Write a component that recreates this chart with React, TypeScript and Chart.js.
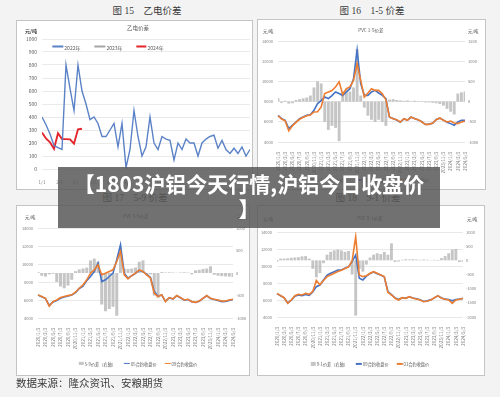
import React, { useEffect, useRef } from "react";
import { Chart, registerables } from "chart.js";

Chart.register(...registerables);

const SANS = '"Noto Sans CJK SC", "Liberation Sans", sans-serif';
const SERIF = '"Liberation Serif", "Noto Sans CJK SC", serif';
Chart.defaults.font.family = SANS;

// ---------- Figure 15: 乙电价差 (weekly) ----------
const ETH_MONTH_TICKS = ["1/1", "2/1", "3/1", "4/1", "5/1", "6/1", "7/1", "8/1", "9/1", "10/1", "11/1", "12/1"];
const ETH_MONTH_TICK_WEEK = [0, 4.4, 8.4, 12.9, 17.1, 21.6, 25.9, 30.3, 34.7, 39, 43.4, 47.7];
const ETH_2022 = [400, 340, 270, 180, 165, 150, 800, 620, 450, 800, 600, 500, 380, 400, 350, 250, 250, 300, 350, 170, 350, 10, 150, 450, 250, 100, 170, 400, 200, 150, 250, 230, 220, 70, 200, 150, 230, 200, 200, 100, 200, 230, 250, 260, 160, 220, 150, 120, 160, 120, 170, 100, 150];
const ETH_2023: number[] = [];
const ETH_2024 = [280, 235, 205, 155, 275, 230, 230, 228, 195, 305, 310];

// ---------- PVC spread charts (monthly) ----------
const MONTH_LABELS = [
  "2020/1/3", "2020/2/3", "2020/3/3", "2020/4/3", "2020/5/3", "2020/6/3", "2020/7/3", "2020/8/3", "2020/9/3", "2020/10/3", "2020/11/3", "2020/12/3",
  "2021/1/3", "2021/2/3", "2021/3/3", "2021/4/3", "2021/5/3", "2021/6/3", "2021/7/3", "2021/8/3", "2021/9/3", "2021/10/3", "2021/11/3", "2021/12/3",
  "2022/1/3", "2022/2/3", "2022/3/3", "2022/4/3", "2022/5/3", "2022/6/3", "2022/7/3", "2022/8/3", "2022/9/3", "2022/10/3", "2022/11/3", "2022/12/3",
  "2023/1/3", "2023/2/3", "2023/3/3", "2023/4/3", "2023/5/3", "2023/6/3", "2023/7/3", "2023/8/3", "2023/9/3", "2023/10/3", "2023/11/3", "2023/12/3",
  "2024/1/3", "2024/2/3", "2024/3/3", "2024/4/3", "2024/5/3",
];

// 图16 1-5价差
const S15_SPREAD = [80, -30, 20, -50, -40, 40, 60, 80, 100, 150, 350, 500, 450, -500, -700, -600, -650, -980, 250, 300, 250, 350, 1300, 150, -150, -350, -450, -500, -450, -500, -600, 50, 60, 40, 30, 20, 30, 10, 20, 10, -10, -20, -20, -30, -40, -60, -100, -180, -250, -320, 200, 230, 250];
const S15_C01 = [6640, 6310, 6150, 5320, 5650, 5980, 6300, 6480, 6640, 6700, 7140, 7800, 8100, 8450, 8300, 8600, 8950, 8800, 8600, 8950, 9280, 10270, 13100, 9780, 8620, 8620, 8950, 9110, 8850, 8620, 8290, 6450, 6330, 6180, 5950, 6290, 6170, 6450, 6330, 6190, 6000, 5730, 5770, 5860, 6230, 6360, 6170, 5960, 5820, 5650, 5980, 6150, 6150];
const S15_C05 = [6600, 6280, 6100, 5100, 5600, 5950, 6250, 6450, 6600, 6680, 6970, 7000, 7470, 8800, 8950, 9100, 9450, 9950, 8700, 9280, 9450, 10100, 11750, 10100, 8450, 8850, 9280, 9110, 9110, 8780, 8190, 6480, 6310, 6210, 5980, 6310, 6150, 6480, 6310, 6210, 5980, 5750, 5750, 5880, 6210, 6380, 6150, 5980, 6080, 5880, 5820, 5980, 6050];

// 图17 5-9价差
const S59_SPREAD = [20, -60, -80, -30, -20, -200, -300, -340, -280, -150, 40, 80, 100, 120, 280, 320, 250, -700, -850, -800, -750, -950, 450, 100, 90, 100, 120, 250, 280, -50, -30, -500, -550, 20, 10, 15, 10, 5, 10, 15, 10, -30, 60, 70, 90, 100, 150, -40, -60, -70, -75, -80, -90];
const S59_C05 = [6550, 6350, 6150, 5400, 5780, 5950, 6200, 6330, 6450, 6550, 6820, 7280, 7550, 8150, 8610, 9170, 10100, 8050, 8240, 8610, 8980, 10470, 12140, 8980, 8420, 8700, 8950, 9300, 9150, 8850, 8500, 6930, 6420, 6550, 5850, 6250, 6100, 6470, 6250, 5980, 6050, 5800, 5720, 5870, 6170, 6470, 6170, 6050, 5950, 5820, 5850, 5960, 6060];
const S59_C09 = [6570, 6380, 6190, 5300, 5820, 6000, 6270, 6380, 6490, 6570, 6860, 7310, 7680, 8240, 8980, 9350, 9910, 8800, 8980, 9170, 9350, 10280, 11400, 8800, 8350, 8720, 8980, 9350, 9170, 8800, 8420, 6750, 6380, 6570, 5820, 6270, 6120, 6490, 6270, 6000, 6080, 5820, 5740, 5890, 6190, 6490, 6190, 6080, 6000, 5880, 5890, 6000, 6080];

// 图18 9-1价差
const S91_SPREAD = [-50, 60, 60, 70, 90, 100, 110, 140, 150, 60, -300, -600, -450, -100, 200, 300, 350, 380, 350, 300, 330, -500, -1950, -300, -400, -150, 100, 200, 250, 220, 300, 200, 600, -60, -40, 20, 40, 30, 40, 30, 20, 30, 20, 10, 20, -20, 80, 150, 250, 380, 400, -60, -50];
const S91_C09 = [6750, 6500, 6250, 5650, 5980, 6450, 6600, 6500, 6650, 6550, 6950, 7570, 7760, 8350, 8940, 9140, 9330, 9530, 9530, 9730, 9920, 10510, 11300, 8550, 8350, 8800, 9100, 9300, 9100, 8950, 8700, 7000, 6650, 6250, 6050, 6250, 6220, 6380, 6230, 6150, 6020, 5830, 5900, 6020, 6250, 6480, 6230, 6100, 6050, 5900, 6050, 6100, 6180];
const S91_C01 = [6780, 6510, 6270, 5610, 6000, 6510, 6670, 6590, 6780, 6670, 7000, 8300, 7800, 8300, 8750, 8950, 9150, 9350, 9500, 9700, 9900, 10600, 13450, 8940, 8750, 8860, 9140, 9330, 9140, 8940, 8750, 6900, 6590, 6200, 6000, 6270, 6200, 6390, 6200, 6120, 6000, 5800, 5880, 6000, 6270, 6510, 6200, 6080, 6000, 5610, 6000, 6080, 6200];

const BLUE = "#4472c4";
const ORANGE = "#ed7d31";
const BAR_GREY = "rgba(175,175,175,0.72)";
const ETH_BLUE = "#5b82c6";
const ETH_GREY = "#a6a6a6";
const ETH_RED = "#e3262b";
const TICK_COLOR = "#7f7f7f";

const plainTick = (v: any) => String(v);

function ChartCanvas({ left, top, width, height, makeConfig }: any) {
  const ref = useRef<HTMLCanvasElement>(null);
  useEffect(() => {
    const chart = new Chart(ref.current as HTMLCanvasElement, makeConfig());
    return () => chart.destroy();
  }, []);
  return (
    <canvas
      ref={ref}
      width={width}
      height={height}
      style={{ position: "absolute", left, top, width, height }}
    />
  );
}

function ethConfig(): any {
  return {
    type: "line",
    data: {
      datasets: [
        { label: "2022年", data: ETH_2022.map((v, i) => ({ x: i, y: v })), borderColor: ETH_BLUE, borderWidth: 1.4, pointRadius: 0, tension: 0 },
        { label: "2023年", data: ETH_2023.map((v, i) => ({ x: i, y: v })), borderColor: ETH_GREY, borderWidth: 1.4, pointRadius: 0, tension: 0 },
        { label: "2024年", data: ETH_2024.map((v, i) => ({ x: i, y: v })), borderColor: ETH_RED, borderWidth: 1.9, pointRadius: 0, tension: 0 },
      ],
    },
    options: {
      animation: false,
      responsive: false,
      maintainAspectRatio: false,
      layout: { padding: { top: 18, right: 2, left: 0, bottom: 0 } },
      plugins: { legend: { display: false }, tooltip: { enabled: false } },
      scales: {
        x: {
          type: "linear",
          min: 0,
          max: 52,
          afterBuildTicks: (axis: any) => {
            axis.ticks = ETH_MONTH_TICK_WEEK.map((v) => ({ value: v }));
          },
          afterFit: (axis: any) => {
            axis.height = 20;
          },
          ticks: {
            autoSkip: false,
            maxRotation: 0,
            minRotation: 0,
            padding: 3,
            font: { size: 4.5 },
            color: TICK_COLOR,
            callback: (_v: any, i: number) => ETH_MONTH_TICKS[i],
          },
          grid: { display: false },
          border: { display: false },
        },
        y: {
          min: 0,
          max: 1000,
          afterFit: (axis: any) => {
            axis.width = 25;
          },
          ticks: { stepSize: 100, padding: 5, font: { size: 5 }, color: "#595959", callback: plainTick },
          grid: { color: "#e4e4e4", lineWidth: 0.8, drawTicks: false },
          border: { display: false },
        },
      },
    },
  };
}

function spreadConfig(p: any): any {
  return {
    type: "bar",
    data: {
      labels: MONTH_LABELS,
      datasets: [
        { type: "line", label: p.blueLabel, data: p.blue, borderColor: BLUE, borderWidth: 1.6, pointRadius: 0, tension: 0, yAxisID: "y", order: 2 },
        { type: "line", label: p.orangeLabel, data: p.orange, borderColor: ORANGE, borderWidth: 1.6, pointRadius: 0, tension: 0, yAxisID: "y", order: 1 },
        { type: "bar", label: p.spreadLabel, data: p.spread, backgroundColor: BAR_GREY, borderWidth: 0, barPercentage: 0.8, categoryPercentage: 1, yAxisID: "y2", order: 3 },
      ],
    },
    options: {
      animation: false,
      responsive: false,
      maintainAspectRatio: false,
      layout: { padding: { top: p.padTop, left: 0, right: 0, bottom: 0 } },
      plugins: { legend: { display: false }, tooltip: { enabled: false } },
      scales: {
        x: {
          offset: false,
          afterFit: (axis: any) => {
            axis.height = p.xH;
          },
          ticks: {
            autoSkip: false,
            maxRotation: 90,
            minRotation: 90,
            padding: 2,
            font: { size: 4.6 },
            color: TICK_COLOR,
            callback: (_v: any, i: number) => (i % 2 === 0 ? MONTH_LABELS[i] : ""),
          },
          grid: { display: false },
          border: { display: false },
        },
        y: {
          position: "left",
          min: 4000,
          max: 14000,
          afterFit: (axis: any) => {
            axis.width = p.yW;
          },
          ticks: { stepSize: 2000, padding: 5, font: { size: 4 }, color: TICK_COLOR, callback: plainTick },
          grid: { color: "#e2e2e2", lineWidth: 0.8, drawTicks: false },
          border: { display: false },
        },
        y2: {
          position: "right",
          min: p.y2min,
          max: p.y2max,
          afterFit: (axis: any) => {
            axis.width = p.y2W;
          },
          ticks: { stepSize: 500, padding: 3, font: { size: 4 }, color: TICK_COLOR, callback: plainTick },
          grid: { display: false, drawTicks: false },
          border: { display: false },
        },
      },
    },
  };
}

function Panel({ left, top, width, height }: any) {
  return (
    <div
      style={{
        position: "absolute",
        left,
        top,
        width,
        height,
        boxSizing: "border-box",
        border: "1px solid #c4c4c4",
        background: "#ffffff",
      }}
    />
  );
}

function Txt({ x, y, size, color, children, anchor = "left", weight = 400, family = SANS }: any) {
  const tx = anchor === "center" ? "-50%" : anchor === "right" ? "-100%" : "0";
  return (
    <div
      style={{
        position: "absolute",
        left: x,
        top: y,
        transform: `translate(${tx}, -50%)`,
        fontSize: size,
        lineHeight: 1,
        color,
        fontWeight: weight,
        fontFamily: family,
        whiteSpace: "pre",
      }}
    >
      {children}
    </div>
  );
}

function Legend({ cx, y, size, items, gap }: any) {
  return (
    <div
      style={{
        position: "absolute",
        left: cx,
        top: y,
        transform: "translate(-50%, -50%)",
        display: "flex",
        alignItems: "center",
        gap,
        fontSize: size,
        lineHeight: 1,
        fontFamily: SANS,
        color: "#595959",
        whiteSpace: "pre",
      }}
    >
      {items.map((it: any) => (
        <div key={it.label} style={{ display: "flex", alignItems: "center", gap: 1 }}>
          {it.kind === "box" ? (
            <div style={{ width: it.w, height: 3.5, background: it.color }} />
          ) : (
            <div style={{ width: it.w, height: it.h || 1.4, background: it.color }} />
          )}
          <span>{it.label}</span>
        </div>
      ))}
    </div>
  );
}

export default function App() {
  return (
    <div
      style={{
        position: "fixed",
        left: 0,
        top: 0,
        width: 500,
        height: 397,
        overflow: "hidden",
        background: "#f3f3f3",
      }}
    >
      {/* captions */}
      <Txt x={147} y={12} size={9.5} color="#3a3a3a" anchor="center" family={SERIF}>图 15　乙电价差</Txt>
      <Txt x={372} y={12} size={9.5} color="#3a3a3a" anchor="center" family={SERIF}>图 16　1-5 价差</Txt>
      <Txt x={135} y={199} size={9.5} color="#3a3a3a" anchor="center" family={SERIF}>图 17　5-9 价差</Txt>
      <Txt x={368} y={199} size={9.5} color="#3a3a3a" anchor="center" family={SERIF}>图 18　9-1 价差</Txt>

      {/* panels */}
      <Panel left={16} top={20} width={237} height={170} />
      <Panel left={257} top={19} width={229} height={171} />
      <Panel left={16} top={205} width={234} height={171} />
      <Panel left={257} top={205} width={228} height={171} />

      {/* chart 15 */}
      <ChartCanvas left={17} top={21} width={235} height={168} makeConfig={ethConfig} />
      <Txt x={138} y={29} size={5.5} color="#595959" anchor="center">乙电价差</Txt>
      <Txt x={25} y={30} size={5} color="#404040" weight={700}>元/吨</Txt>
      <Legend
        cx={108}
        y={46.7}
        size={5}
        gap={14}
        items={[
          { label: "2022年", color: ETH_BLUE, w: 11, h: 1.4 },
          { label: "2023年", color: ETH_GREY, w: 11, h: 1.4 },
          { label: "2024年", color: ETH_RED, w: 10, h: 1.9 },
        ]}
      />

      {/* chart 16: 1-5 */}
      <ChartCanvas
        left={258}
        top={20}
        width={227}
        height={169}
        makeConfig={() =>
          spreadConfig({
            blue: S15_C01, orange: S15_C05, spread: S15_SPREAD,
            blueLabel: "01合约收盘价", orangeLabel: "05合约收盘价", spreadLabel: "1-5价差（右轴）",
            y2min: -1000, y2max: 1500, padTop: 21, yW: 20, y2W: 20, xH: 47,
          })
        }
      />
      <Txt x={371} y={30} size={4.6} color="#595959" anchor="center">PVC 1-5价差</Txt>
      <Txt x={263} y={31} size={4.4} color="#404040">元/吨</Txt>
      <Txt x={468} y={31} size={4.4} color="#404040">元/吨</Txt>
      <Legend
        cx={370}
        y={180}
        size={4.2}
        gap={8}
        items={[
          { label: "1-5价差（右轴）", color: BAR_GREY, w: 5, kind: "box" },
          { label: "01合约收盘价", color: BLUE, w: 6 },
          { label: "05合约收盘价", color: ORANGE, w: 6 },
        ]}
      />

      {/* chart 17: 5-9 */}
      <ChartCanvas
        left={17}
        top={206}
        width={232}
        height={169}
        makeConfig={() =>
          spreadConfig({
            blue: S59_C05, orange: S59_C09, spread: S59_SPREAD,
            blueLabel: "05合约收盘价", orangeLabel: "09合约收盘价", spreadLabel: "5-9价差（右轴）",
            y2min: -1000, y2max: 1000, padTop: 22, yW: 21, y2W: 16, xH: 57,
          })
        }
      />
      <Txt x={136} y={216} size={4.6} color="#595959" anchor="center">PVC 5-9价差</Txt>
      <Txt x={25} y={216.5} size={4.4} color="#404040">元/吨</Txt>
      <Txt x={237} y={216.5} size={4.4} color="#404040">元/吨</Txt>
      <Legend
        cx={138}
        y={363.5}
        size={4.2}
        gap={8}
        items={[
          { label: "5-9价差（右轴）", color: BAR_GREY, w: 5, kind: "box" },
          { label: "05合约收盘价", color: BLUE, w: 6 },
          { label: "09合约收盘价", color: ORANGE, w: 6 },
        ]}
      />

      {/* chart 18: 9-1 */}
      <ChartCanvas
        left={258}
        top={206}
        width={226}
        height={169}
        makeConfig={() =>
          spreadConfig({
            blue: S91_C09, orange: S91_C01, spread: S91_SPREAD,
            blueLabel: "09合约收盘价", orangeLabel: "01合约收盘价", spreadLabel: "9-1价差（右轴）",
            y2min: -2000, y2max: 1000, padTop: 26, yW: 19, y2W: 21, xH: 58,
          })
        }
      />
      <Txt x={370} y={218} size={4.6} color="#595959" anchor="center">PVC 9-1价差</Txt>
      <Txt x={263} y={219} size={4.4} color="#404040">元/吨</Txt>
      <Txt x={467} y={219} size={4.4} color="#404040">元/吨</Txt>
      <Legend
        cx={370}
        y={364}
        size={4.2}
        gap={8}
        items={[
          { label: "9-1价差（右轴）", color: BAR_GREY, w: 5, kind: "box" },
          { label: "09合约收盘价", color: BLUE, w: 6 },
          { label: "01合约收盘价", color: ORANGE, w: 6 },
        ]}
      />

      {/* source */}
      <Txt x={16} y={384} size={10.5} color="#3a3a3a" family={SERIF}>数据来源：隆众资讯、安粮期货</Txt>

      {/* banner */}
      <div
        style={{
          position: "absolute",
          left: 58,
          top: 167,
          width: 382,
          height: 61,
          background: "rgba(88,88,88,0.85)",
          color: "#ffffff",
          fontFamily: SANS,
          fontWeight: 700,
          fontSize: 21,
          lineHeight: "25px",
          textAlign: "center",
          paddingTop: 4,
          boxSizing: "border-box",
          whiteSpace: "nowrap",
        }}
      >
        【1803沪铝今天行情,沪铝今日收盘价
        <br />】
      </div>
    </div>
  );
}
